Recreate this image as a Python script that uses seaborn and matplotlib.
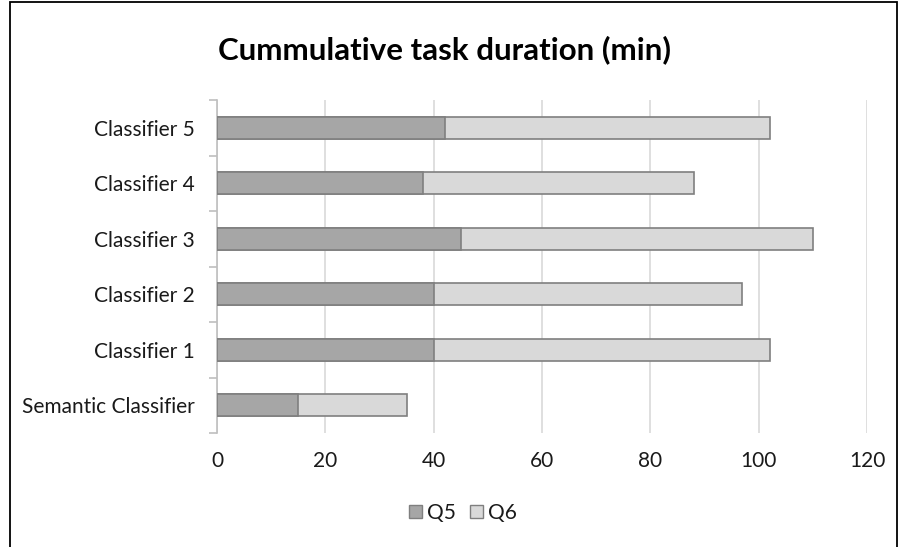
import matplotlib
matplotlib.use("Agg")
import matplotlib.pyplot as plt
from matplotlib.patches import Rectangle, Patch
import seaborn as sns
import pandas as pd

# Data: minutes spent per classifier on tasks Q5 and Q6
categories = ["Semantic Classifier", "Classifier 1", "Classifier 2",
              "Classifier 3", "Classifier 4", "Classifier 5"]
q5 = [15, 40, 40, 45, 38, 42]
q6 = [20, 62, 57, 65, 50, 60]
x_ticks = [0, 20, 40, 60, 80, 100, 120]

sns.set_theme(style="white")
plt.rcParams["font.family"] = ["Lato", "DejaVu Sans"]

df = pd.DataFrame({"category": categories, "Q5": q5, "Q6": q6})
df["total"] = df["Q5"] + df["Q6"]
order = list(reversed(categories))

fig = plt.figure(figsize=(9, 5.47), dpi=100)
ax = fig.add_axes([217 / 900, 1 - 433 / 547, 650 / 900, 333 / 547])

edge = "#7f7f7f"
text_color = "#1a1a1a"
# Stacked bars: full Q5+Q6 length in light grey, Q5 portion over it in dark grey
sns.barplot(data=df, y="category", x="total", order=order, orient="h",
            color="#d9d9d9", edgecolor=edge, linewidth=1.2, width=0.4,
            saturation=1, ax=ax, zorder=3)
sns.barplot(data=df, y="category", x="Q5", order=order, orient="h",
            color="#a6a6a6", edgecolor=edge, linewidth=1.2, width=0.4,
            saturation=1, ax=ax, zorder=4)

ax.set_xlim(0, 120)
ax.set_ylim(len(order) - 0.5, -0.5)
ax.set_xticks(x_ticks)
ax.set_xticklabels([str(t) for t in x_ticks], fontsize=15, color=text_color)
ax.tick_params(axis="x", length=0, pad=13)
ax.xaxis.grid(True, color="#d9d9d9", linewidth=1.2, zorder=0)
ax.yaxis.grid(False)

# Category labels centered in each band, tick marks at band boundaries
ax.set_yticks([i - 0.5 for i in range(len(order) + 1)])
ax.set_yticklabels([])
ax.set_yticks(range(len(order)), minor=True)
ax.set_yticklabels(order, minor=True, fontsize=15, color=text_color)
ax.tick_params(axis="y", which="major", length=6, width=1.2, color="#bfbfbf",
               direction="out", left=True)
ax.tick_params(axis="y", which="minor", length=0, pad=16)

ax.set_xlabel("")
ax.set_ylabel("")
for side in ["top", "right", "bottom"]:
    ax.spines[side].set_visible(False)
ax.spines["left"].set_color("#bfbfbf")
ax.spines["left"].set_linewidth(1.2)
ax.set_axisbelow(True)

fig.text(445 / 900, 1 - 50 / 547, "Cummulative task duration (min)",
         ha="center", va="center", fontsize=22.5, fontweight="bold", color="black")

handles = [Patch(facecolor="#a6a6a6", edgecolor=edge, label="Q5"),
           Patch(facecolor="#d9d9d9", edgecolor=edge, label="Q6")]
fig.legend(handles=handles, loc="center", bbox_to_anchor=(463 / 900, 1 - 513 / 547),
           ncol=2, frameon=False, fontsize=15, handlelength=0.63, handleheight=0.63,
           handletextpad=0.25, columnspacing=0.67, labelcolor=text_color)

# Chart frame
fig.patches.append(Rectangle((10 / 900, -0.05), 887 / 900, 1.05 - 1.5 / 547,
                             transform=fig.transFigure, fill=False,
                             edgecolor="black", linewidth=1.3))

fig.savefig("out.png", dpi=100)
